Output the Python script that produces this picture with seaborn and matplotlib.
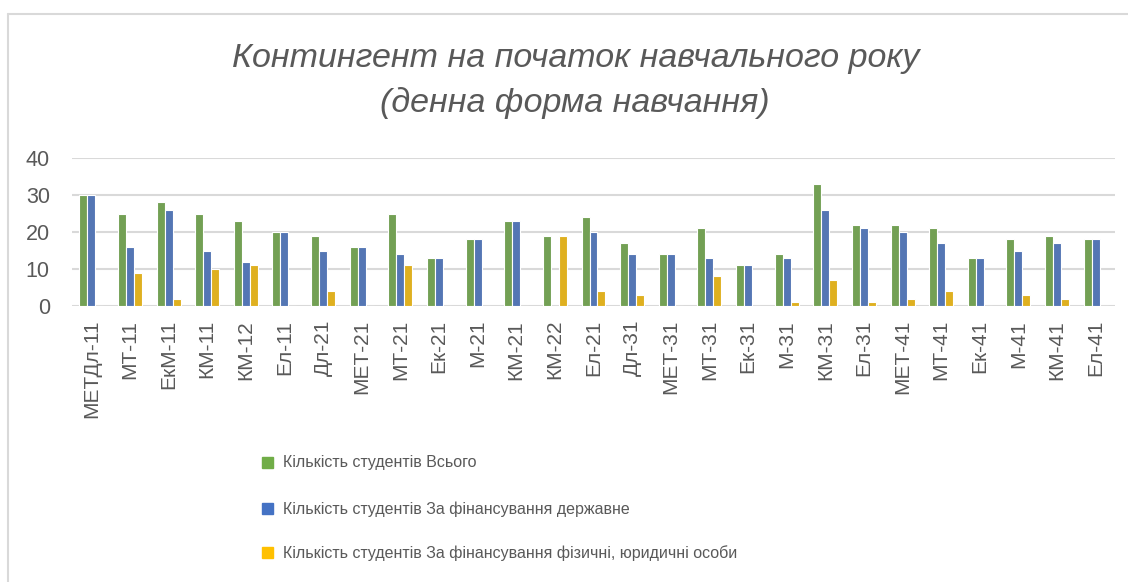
import numpy as np
import pandas as pd
import seaborn as sns
import matplotlib.pyplot as plt
from matplotlib.patches import Rectangle

groups = ['МЕТДл-11', 'МТ-11', 'ЕкМ-11', 'КМ-11', 'КМ-12', 'Ел-11', 'Дл-21', 'МЕТ-21',
          'МТ-21', 'Ек-21', 'М-21', 'КМ-21', 'КМ-22', 'Ел-21', 'Дл-31', 'МЕТ-31',
          'МТ-31', 'Ек-31', 'М-31', 'КМ-31', 'Ел-31', 'МЕТ-41', 'МТ-41', 'Ек-41',
          'М-41', 'КМ-41', 'Ел-41']
total = [30, 25, 28, 25, 23, 20, 19, 16, 25, 13, 18, 23, 19, 24, 17, 14, 21, 11, 14, 33,
         22, 22, 21, 13, 18, 19, 18]
state = [30, 16, 26, 15, 12, 20, 15, 16, 14, 13, 18, 23, 0, 20, 14, 14, 13, 11, 13, 26,
         21, 20, 17, 13, 15, 17, 18]
private = [0, 9, 2, 10, 11, 0, 4, 0, 11, 0, 0, 0, 19, 4, 3, 0, 8, 0, 1, 7,
           1, 2, 4, 0, 3, 2, 0]
series = ['Кількість студентів Всього',
          'Кількість студентів За фінансування державне',
          'Кількість студентів За фінансування фізичні, юридичні особи']
palette = ['#70AD47', '#4472C4', '#FFC000']

df = pd.DataFrame({'group': groups, series[0]: total, series[1]: state, series[2]: private})
long_df = df.melt(id_vars='group', var_name='series', value_name='count')

sns.set_theme(style='white')
plt.rcParams['font.family'] = ['Liberation Sans', 'DejaVu Sans']
txt = '#595959'

fig = plt.figure(figsize=(11.28, 5.82), dpi=100)
ax = fig.add_axes([72 / 1128, 1 - 306 / 582, (1115 - 72) / 1128, (306 - 158) / 582])

sns.barplot(data=long_df, x='group', y='count', hue='series', palette=palette,
            hue_order=series, order=groups, width=0.62, edgecolor='white',
            linewidth=0.8, ax=ax, legend=False)

ax.set_ylim(0, 40)
ax.set_yticks([0, 10, 20, 30, 40])
ax.set_xlim(-0.5, len(groups) - 0.5)
ax.yaxis.grid(True, color='#D9D9D9', linewidth=1.5)
ax.set_axisbelow(True)
for s in ax.spines.values():
    s.set_visible(False)
ax.set_xlabel('')
ax.set_ylabel('')
ax.tick_params(axis='y', labelsize=15.5, labelcolor=txt, length=0, pad=16)
ax.tick_params(axis='x', labelsize=15, labelcolor=txt, length=0, pad=10, rotation=90)

fig.text(0.51, 1 - 58 / 582, 'Контингент на початок навчального року',
         ha='center', va='center', fontsize=24.5, style='italic', color=txt)
fig.text(0.51, 1 - 103 / 582, '(денна форма навчання)',
         ha='center', va='center', fontsize=24.5, style='italic', color=txt)

# legend below the axis labels
ys = [463, 509, 553]
for lab, col, y in zip(series, palette, ys):
    fig.patches.append(Rectangle((262 / 1128, 1 - (y + 5) / 582), 11 / 1128, 11 / 582,
                                 transform=fig.transFigure, color=col))
    fig.text(283 / 1128, 1 - y / 582, lab, ha='left', va='center', fontsize=11.5, color=txt)

# chart frame
fig.add_artist(plt.Line2D([8 / 1128, 8 / 1128], [0, 1 - 14 / 582], transform=fig.transFigure,
                          color='#D9D9D9', linewidth=1.5))
fig.add_artist(plt.Line2D([8 / 1128, 1], [1 - 14 / 582, 1 - 14 / 582], transform=fig.transFigure,
                          color='#D9D9D9', linewidth=1.5))

fig.savefig('out.png', dpi=100)
